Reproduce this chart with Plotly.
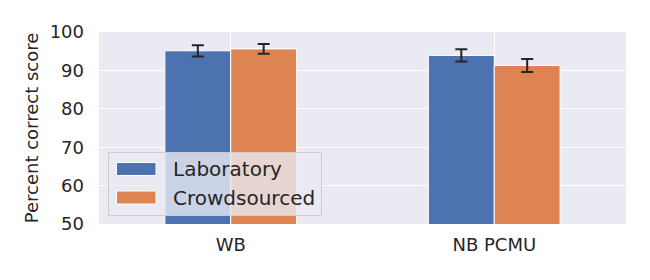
import plotly.graph_objects as go

categories = ["WB", "NB PCMU"]
series_names = ["Laboratory", "Crowdsourced"]
lab_values = [95.1, 93.9]
lab_err = [1.45, 1.6]
crowd_values = [95.6, 91.3]
crowd_err = [1.25, 1.7]
y_ticks = [50, 60, 70, 80, 90, 100]

FONT = "DejaVu Sans"
TEXT = "#262626"
COLORS = ["#4C72B0", "#DD8452"]

W, H = 650, 280
L, R, T, B = 99, 24, 32, 56
PW, PH = W - L - R, H - T - B


def px(x):
    return (x - L) / PW


def py(y):
    return (H - B - y) / PH


fig = go.Figure()
for name, vals, errs, col in [
    (series_names[0], lab_values, lab_err, COLORS[0]),
    (series_names[1], crowd_values, crowd_err, COLORS[1]),
]:
    fig.add_trace(go.Bar(
        name=name, x=categories, y=vals, showlegend=False,
        marker=dict(color=col, line=dict(color="white", width=1)),
        error_y=dict(type="data", array=errs, color=TEXT, thickness=2, width=6),
    ))

# custom legend (matplotlib-style box with wide patches)
shapes = [dict(
    type="rect", xref="paper", yref="paper", layer="above",
    x0=px(108.5), x1=px(321.5), y0=py(215.5), y1=py(152.5),
    fillcolor="rgba(234,234,242,0.8)", line=dict(color="#CCCCCC", width=1),
)]
annotations = []
rows = [(162.5, 175.5), (191, 204)]
for (y0, y1), name, col in zip(rows, series_names, COLORS):
    shapes.append(dict(
        type="rect", xref="paper", yref="paper", layer="above",
        x0=px(116.5), x1=px(156), y0=py(y1), y1=py(y0),
        fillcolor=col, line=dict(color="white", width=1),
    ))
    annotations.append(dict(
        xref="paper", yref="paper", x=px(171), y=py((y0 + y1) / 2),
        xanchor="left", yanchor="middle", showarrow=False, text=name,
        font=dict(size=20, family=FONT, color=TEXT),
    ))

fig.update_layout(
    width=W, height=H,
    margin=dict(l=L, r=R, t=T, b=B),
    paper_bgcolor="white", plot_bgcolor="#EAEAF2",
    barmode="group", bargap=0.5, bargroupgap=0,
    font=dict(family=FONT, color=TEXT),
    showlegend=False,
    shapes=shapes, annotations=annotations,
    xaxis=dict(
        showgrid=True, gridcolor="white", gridwidth=1,
        tickfont=dict(size=18, family=FONT, color=TEXT),
        ticks="", ticklabelstandoff=8, showline=False, zeroline=False,
    ),
    yaxis=dict(
        range=[50, 100], tickvals=y_ticks,
        showgrid=True, gridcolor="white", gridwidth=1,
        tickfont=dict(size=18, family=FONT, color=TEXT),
        ticks="", ticklabelstandoff=14, showline=False, zeroline=False,
        title=dict(text="Percent correct score", font=dict(size=18, family=FONT, color=TEXT), standoff=6),
    ),
)

fig.write_html("out.html", config={"displayModeBar": False},
               post_script="document.body.style.margin='0';")
